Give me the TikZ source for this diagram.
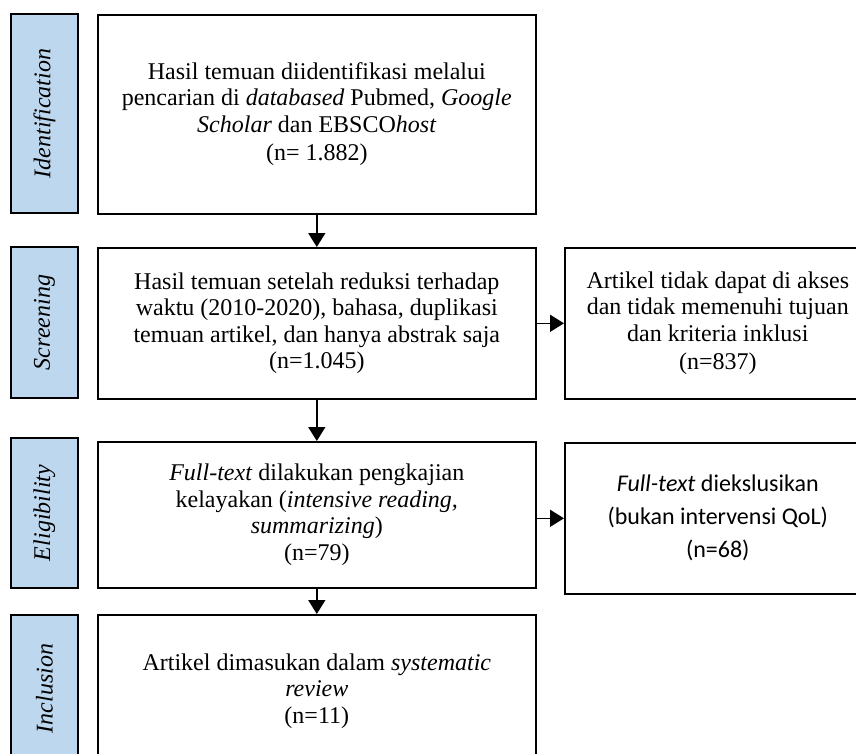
\documentclass[tikz,border=0pt]{standalone}
\usepackage{fontspec}
\setmainfont{Liberation Serif}[ItalicFont={Liberation Serif Italic}, BoldFont={Liberation Serif Bold}]
\newfontfamily\calib{Carlito}
\usetikzlibrary{arrows.meta}
\definecolor{lblue}{HTML}{BDD7EE}
\begin{document}
\begin{tikzpicture}[x=1pt,y=-1pt,
  box/.style={draw, line width=1.6pt, inner sep=0pt, align=center,
    font=\fontsize{24}{26.5}\selectfont},
  mainbox/.style={box, anchor=north west, minimum width=438pt},
  sidebox/.style={box, anchor=north west, minimum width=306pt},
  lab/.style={box, fill=lblue, rotate=90, anchor=center, minimum height=67pt,
    font=\fontsize{24}{26}\selectfont\itshape},
  arr/.style={line width=1.6pt, -{Triangle[width=17pt,length=14pt]}}]
\path[use as bounding box, clip] (0,0) rectangle (856,753);

\node[lab, minimum width=199pt] (l1) at (44.5,113.5) {Identification};
\node[lab, minimum width=151pt] (l2) at (44.5,322.5) {Screening};
\node[lab, minimum width=150pt] (l3) at (44.5,513) {Eligibility};
\node[lab, minimum width=147pt] (l4) at (44.5,688.5) {Inclusion};

\node[mainbox, minimum height=199pt] (m1) at (97,14)
  {Hasil temuan diidentifikasi melalui\\ pencarian di \textit{databased} Pubmed, \textit{Google}\\ \textit{Scholar} dan EBSCO\textit{host}\\[2pt] (n= 1.882)};
\node[mainbox, minimum height=151pt] (m2) at (97,247)
  {Hasil temuan setelah reduksi terhadap\\ waktu (2010-2020), bahasa, duplikasi\\ temuan artikel, dan hanya abstrak saja\\ (n=1.045)};
\node[mainbox, minimum height=146pt] (m3) at (97,441)
  {\textit{Full-text} dilakukan pengkajian\\ kelayakan (\textit{intensive reading,}\\ \textit{summarizing})\\ (n=79)};
\node[mainbox, minimum height=152pt] (m4) at (97,614)
  {Artikel dimasukan dalam \textit{systematic}\\ \textit{review}\\ (n=11)};

\node[sidebox, minimum height=151pt] (r1) at (564,247)
  {Artikel tidak dapat di akses\\ dan tidak memenuhi tujuan\\ dan kriteria inklusi\\[2pt] (n=837)};
\node[sidebox, minimum height=151pt, font=\fontsize{24}{33}\selectfont\calib] (r2) at (564,442)
  {\textit{Full-text} diekslusikan\\ (bukan intervensi QoL)\\ (n=68)};

\draw[arr] (m1.south) -- (m2.north);
\draw[arr] (m2.south) -- (m3.north);
\draw[arr] (m3.south) -- (m4.north);
\draw[arr] (m2.east) -- (r1.west);
\draw[arr] (m3.east |- r2.west) -- (r2.west);
\end{tikzpicture}
\end{document}
